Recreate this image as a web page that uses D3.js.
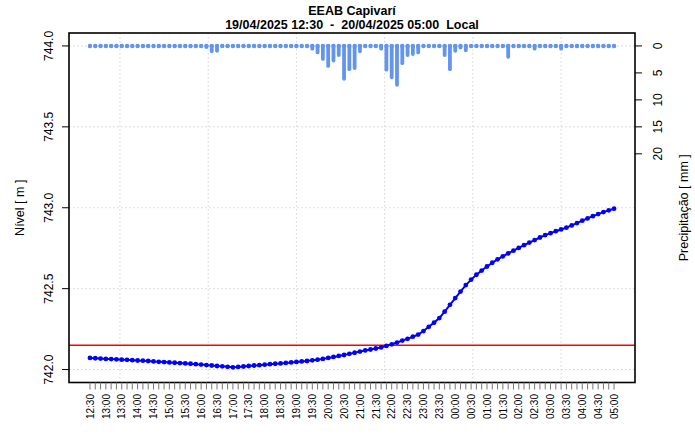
<!DOCTYPE html>
<html>
<head>
<meta charset="utf-8">
<script src="https://cdn.jsdelivr.net/npm/d3@7"></script>
<style>
    body { margin: 0; background: #fff; }
    text { font-family: "Liberation Sans", Arial, sans-serif; fill: #000; }
    .grid line { stroke: #d3d3d3; stroke-dasharray: 1.5,2.5; }
</style>
</head>
<body>
<div id="chart"></div>
<script>

// nivel (m), leitura a cada 10 min, 19/04 12:30 -> 20/04 05:00
var nivel = [
    742.072, 742.070, 742.068, 742.066, 742.065, 742.063, 742.061, 742.060, 742.058, 742.056,
    742.055, 742.053, 742.050, 742.048, 742.046, 742.044, 742.042, 742.040, 742.038, 742.036,
    742.033, 742.031, 742.028, 742.025, 742.022, 742.020, 742.017, 742.014, 742.016, 742.019,
    742.022, 742.025, 742.027, 742.030, 742.033, 742.036, 742.038, 742.041, 742.044, 742.047,
    742.050, 742.053, 742.057, 742.061, 742.066, 742.072, 742.078, 742.084, 742.090, 742.097,
    742.104, 742.111, 742.118, 742.124, 742.130, 742.137, 742.146, 742.156, 742.167, 742.179,
    742.190, 742.203, 742.216, 742.238, 742.264, 742.290, 742.318, 742.358, 742.400, 742.442,
    742.482, 742.522, 742.556, 742.586, 742.612, 742.637, 742.660, 742.681, 742.700, 742.718,
    742.735, 742.752, 742.769, 742.785, 742.800, 742.816, 742.831, 742.843, 742.855, 742.866,
    742.877, 742.891, 742.905, 742.920, 742.934, 742.948, 742.961, 742.973, 742.984, 742.994
];

// precipitacao (mm) no mesmo intervalo
var chuva = [
    0, 0, 0, 0, 0, 0, 0, 0, 0, 0,
    0, 0, 0, 0, 0, 0, 0, 0, 0, 0,
    0, 0, 0.2, 1.0, 0.9, 0, 0, 0, 0, 0,
    0, 0, 0, 0, 0, 0, 0, 0, 0, 0,
    0, 0, 0.5, 1.2, 2.4, 3.7, 2.7, 1.7, 6.1, 4.3,
    4.1, 1.0, 0, 0, 0, 0.5, 4.4, 5.8, 7.2, 3.2,
    1.7, 1.5, 1.2, 0, 0, 0, 0, 1.7, 4.3, 0.9,
    0.3, 0.8, 0, 0, 0, 0, 0, 0, 0, 2.0,
    0, 0, 0, 0, 0.5, 0, 0, 0, 0, 0.5,
    0, 0, 0, 0, 0, 0, 0, 0, 0, 0
];

var cota = 742.15;   // linha vermelha

var xLabels = ["12:30","13:00","13:30","14:00","14:30","15:00","15:30","16:00","16:30","17:00",
    "17:30","18:00","18:30","19:00","19:30","20:00","20:30","21:00","21:30","22:00",
    "22:30","23:00","23:30","00:00","00:30","01:00","01:30","02:00","02:30","03:00",
    "03:30","04:00","04:30","05:00"];
var yTicks = [742.0, 742.5, 743.0, 743.5, 744.0];
var chuvaTicks = [0, 5, 10, 15, 20];
// linhas de grade verticais (pretty() do eixo em segundos)
var gridTimes = ["2025-04-19T13:26:40Z", "2025-04-19T16:13:20Z", "2025-04-19T19:00:00Z",
    "2025-04-19T21:46:40Z", "2025-04-20T00:33:20Z", "2025-04-20T03:20:00Z"];

var inicio = new Date(Date.UTC(2025, 3, 19, 12, 30));
var horas = nivel.map(function(d, i){ return d3.utcMinute.offset(inicio, i * 10); });

var width = 695, height = 437;
var box = {left: 69, right: 635, top: 33, bottom: 382.5};

var svg = d3.select("#chart").append("svg")
    .attr("width", width)
    .attr("height", height);

// R style 4% padding on both axes
var t0 = horas[0].getTime(), t1 = horas[horas.length - 1].getTime();
var pad = (t1 - t0) * 0.04;
var x = d3.scaleUtc()
    .domain([new Date(t0 - pad), new Date(t1 + pad)])
    .range([box.left, box.right]);

var y = d3.scaleLinear()
    .domain([742 - 0.08, 744 + 0.08])
    .range([box.bottom, box.top]);

// 15 mm = 0.5 m on the left scale
var yChuva = d3.scaleLinear()
    .domain([0, 30])
    .range([y(744), y(743)]);

// grid
var grid = svg.append("g").attr("class", "grid");
grid.selectAll(".gx")
    .data(gridTimes)
    .enter().append("line")
    .attr("x1", function(d){ return x(new Date(d)); })
    .attr("x2", function(d){ return x(new Date(d)); })
    .attr("y1", box.top)
    .attr("y2", box.bottom);
grid.selectAll(".gy")
    .data(yTicks)
    .enter().append("line")
    .attr("x1", box.left)
    .attr("x2", box.right)
    .attr("y1", function(d){ return y(d); })
    .attr("y2", function(d){ return y(d); });

// precipitacao
svg.append("g").selectAll("line")
    .data(chuva)
    .enter().append("line")
    .attr("x1", function(d, i){ return x(horas[i]); })
    .attr("x2", function(d, i){ return x(horas[i]); })
    .attr("y1", yChuva(0))
    .attr("y2", function(d){ return yChuva(d); })
    .attr("stroke", "#6495ED")
    .attr("stroke-width", 3.8)
    .attr("stroke-linecap", "round");

svg.append("g").selectAll("circle")
    .data(chuva)
    .enter().append("circle")
    .attr("cx", function(d, i){ return x(horas[i]); })
    .attr("cy", function(d){ return yChuva(0); })
    .attr("r", 2.2)
    .attr("fill", "#6495ED");

// linha de referencia
svg.append("line")
    .attr("x1", box.left)
    .attr("x2", box.right)
    .attr("y1", y(cota))
    .attr("y2", y(cota))
    .attr("stroke", "#ff0000")
    .attr("stroke-width", 1.6);

// nivel
var valueline = d3.line()
    .x(function(d, i){ return x(horas[i]); })
    .y(function(d){ return y(d); });

svg.append("path")
    .datum(nivel)
    .attr("d", valueline)
    .attr("fill", "none")
    .attr("stroke", "#0000ff")
    .attr("stroke-width", 2);

svg.append("g").selectAll("circle")
    .data(nivel)
    .enter().append("circle")
    .attr("cx", function(d, i){ return x(horas[i]); })
    .attr("cy", function(d){ return y(d); })
    .attr("r", 2.4)
    .attr("fill", "#0000ff");

// box
svg.append("rect")
    .attr("x", box.left)
    .attr("y", box.top)
    .attr("width", box.right - box.left)
    .attr("height", box.bottom - box.top)
    .attr("fill", "none")
    .attr("stroke", "#000")
    .attr("stroke-width", 1.6);

// eixo y esquerdo
var yAxis = svg.append("g");
yAxis.selectAll("line")
    .data(yTicks)
    .enter().append("line")
    .attr("x1", box.left - 7)
    .attr("x2", box.left)
    .attr("y1", function(d){ return y(d); })
    .attr("y2", function(d){ return y(d); })
    .attr("stroke", "#000");
yAxis.selectAll("text")
    .data(yTicks)
    .enter().append("text")
    .attr("transform", function(d){ return "translate(53," + y(d) + ") rotate(-90)"; })
    .attr("text-anchor", "middle")
    .style("font-size", "12px")
    .text(function(d){ return d3.format(".1f")(d); });

// eixo direito (chuva)
var rAxis = svg.append("g");
rAxis.selectAll("line")
    .data(chuvaTicks)
    .enter().append("line")
    .attr("x1", box.right)
    .attr("x2", box.right + 7)
    .attr("y1", function(d){ return yChuva(d); })
    .attr("y2", function(d){ return yChuva(d); })
    .attr("stroke", "#000");
rAxis.selectAll("text")
    .data(chuvaTicks)
    .enter().append("text")
    .attr("transform", function(d){ return "translate(662," + yChuva(d) + ") rotate(-90)"; })
    .attr("text-anchor", "middle")
    .style("font-size", "12px")
    .text(function(d){ return d; });

// eixo x
var xAxis = svg.append("g");
xAxis.selectAll("line")
    .data(horas)
    .enter().append("line")
    .attr("x1", function(d){ return x(d); })
    .attr("x2", function(d){ return x(d); })
    .attr("y1", box.bottom)
    .attr("y2", box.bottom + 7)
    .attr("stroke", "#777");
xAxis.selectAll("text")
    .data(xLabels)
    .enter().append("text")
    .attr("transform", function(d, i){ return "translate(" + (x(horas[i * 3]) + 3.7) + ",394) rotate(-90)"; })
    .attr("text-anchor", "end")
    .style("font-size", "10px")
    .text(function(d){ return d; });

// titulos
svg.append("text")
    .attr("x", (box.left + box.right) / 2)
    .attr("y", 15)
    .attr("text-anchor", "middle")
    .style("font-size", "12.5px")
    .style("font-weight", "bold")
    .text("EEAB Capivarí");
svg.append("text")
    .attr("x", (box.left + box.right) / 2)
    .attr("y", 28.5)
    .attr("text-anchor", "middle")
    .style("font-size", "12.5px")
    .style("font-weight", "bold")
    .style("white-space", "pre")
    .text("19/04/2025 12:30  -  20/04/2025 05:00  Local");

svg.append("text")
    .attr("transform", "translate(24," + ((box.top + box.bottom) / 2) + ") rotate(-90)")
    .attr("text-anchor", "middle")
    .style("font-size", "12.5px")
    .text("Nível [ m ]");
svg.append("text")
    .attr("transform", "translate(688," + ((box.top + box.bottom) / 2) + ") rotate(-90)")
    .attr("text-anchor", "middle")
    .style("font-size", "12.5px")
    .text("Precipitação [ mm ]");

</script>
</body>
</html>
